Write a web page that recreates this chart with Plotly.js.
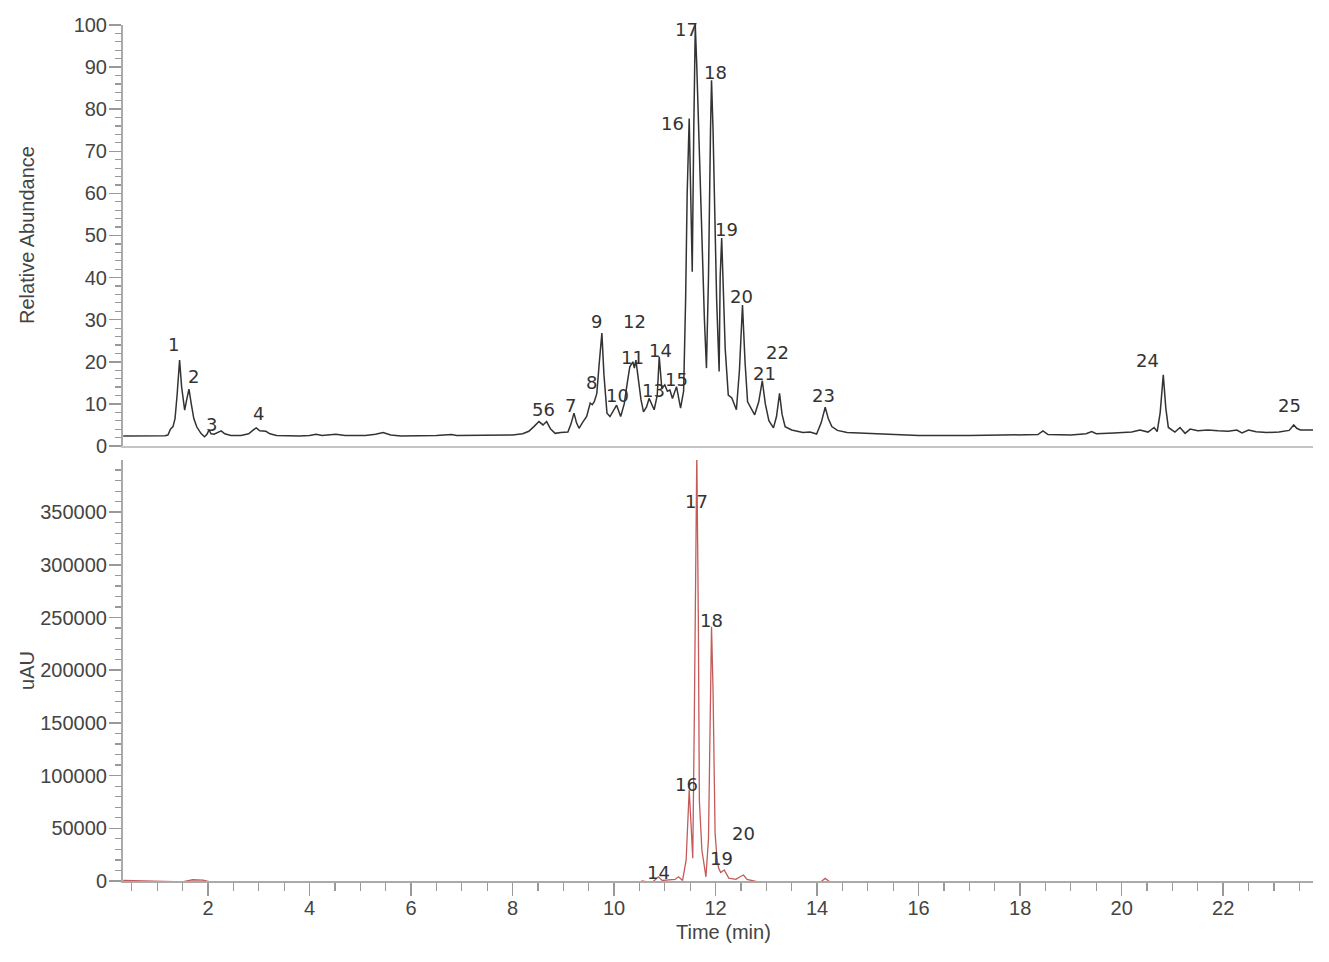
<!DOCTYPE html>
<html>
<head>
<meta charset="utf-8">
<script src="https://cdn.plot.ly/plotly-3.0.1.min.js"></script>
<style>
  html, body { margin: 0; padding: 0; background: #fff; }
  #chart { width: 1329px; height: 962px; }
</style>
</head>
<body>
<div id="chart"></div>
<script>
// Top trace: total ion chromatogram (relative abundance, %)
const ticTime = [
  0.33, 0.8, 1.15, 1.21, 1.26, 1.31, 1.35, 1.39, 1.44, 1.48, 1.52, 1.54, 1.58, 1.625, 1.67, 1.72, 1.78, 1.86, 1.93, 1.98,
  2.02, 2.06, 2.12, 2.2, 2.26, 2.33, 2.45, 2.65, 2.8, 2.9, 2.95, 3.02, 3.1, 3.14, 3.22, 3.35, 3.8, 4.0, 4.13, 4.25,
  4.35, 4.52, 4.7, 5.1, 5.3, 5.45, 5.6, 5.8, 6.5, 6.8, 6.9, 7.5, 8.0, 8.2, 8.32, 8.42, 8.52, 8.6, 8.67, 8.75,
  8.84, 8.95, 9.09, 9.15, 9.21, 9.26, 9.31, 9.38, 9.46, 9.53, 9.57, 9.61, 9.66, 9.71, 9.76, 9.8, 9.86, 9.92, 9.98, 10.05,
  10.13, 10.2, 10.26, 10.31, 10.37, 10.4, 10.43, 10.48, 10.53, 10.58, 10.64, 10.69, 10.74, 10.79, 10.85, 10.89, 10.94, 11.0, 11.05, 11.1,
  11.15, 11.23, 11.31, 11.37, 11.41, 11.44, 11.48, 11.51, 11.54, 11.57, 11.6, 11.63, 11.68, 11.73, 11.78, 11.82, 11.86, 11.9, 11.92, 11.95,
  11.99, 12.02, 12.07, 12.09, 12.12, 12.15, 12.19, 12.25, 12.32, 12.41, 12.47, 12.53, 12.58, 12.63, 12.7, 12.77, 12.85, 12.92, 12.98, 13.05,
  13.14, 13.2, 13.26, 13.31, 13.37, 13.5, 13.72, 13.86, 13.99, 14.08, 14.16, 14.22, 14.29, 14.4, 14.59, 14.98, 15.3, 16.0, 17.0, 18.0,
  18.35, 18.45, 18.55, 19.0, 19.3, 19.41, 19.5, 19.85, 20.03, 20.2, 20.36, 20.52, 20.64, 20.7, 20.76, 20.82, 20.87, 20.92, 21.05, 21.15,
  21.25, 21.35, 21.5, 21.7, 21.9, 22.1, 22.27, 22.37, 22.5, 22.65, 22.86, 23.1, 23.3, 23.39, 23.45, 23.52, 23.77
];
const ticAbundance = [
  2.4, 2.4, 2.45, 2.6, 4.0, 4.6, 6.5, 12, 20.4, 14, 9.5, 8.5, 11, 13.5, 10, 6.5, 4.5, 3.0, 2.2, 2.8,
  3.8, 2.9, 2.8, 3.3, 3.6, 2.9, 2.5, 2.5, 2.9, 3.9, 4.3, 3.6, 3.5, 3.5, 2.9, 2.5, 2.4, 2.5, 2.8, 2.5,
  2.6, 2.8, 2.5, 2.5, 2.8, 3.2, 2.6, 2.4, 2.5, 2.7, 2.5, 2.5, 2.6, 2.9, 3.5, 4.6, 5.8, 5.0, 5.8, 4.0,
  3.0, 3.2, 3.3, 5.2, 7.8, 5.5, 4.2, 5.6, 7.0, 10.2, 9.8, 10.5, 12.5, 20, 26.8, 17, 7.8, 7.0, 8.2, 9.7,
  7.0, 10, 15, 18.8, 20.0, 18.5, 20.4, 16, 11, 8.1, 9.3, 11.3, 9.8, 8.6, 12, 21.2, 13.7, 14.5, 13.0, 13.3,
  11.3, 14.1, 9.0, 13, 35, 60, 77.8, 60, 41.4, 75, 100, 90, 70, 47, 30, 18.5, 40, 75, 86.9, 75,
  50, 35, 17.7, 40, 49.4, 40, 23, 12.1, 11.4, 8.6, 18, 33.5, 20, 10.5, 8.8, 7.4, 10.5, 15.5, 10, 6,
  4.3, 7, 12.5, 7.5, 4.6, 3.8, 3.2, 3.3, 2.85, 5.5, 9.2, 6.5, 4.6, 3.7, 3.2, 3.0, 2.7, 2.5, 2.5, 2.6,
  2.7, 3.6, 2.7, 2.6, 2.9, 3.4, 2.9, 3.1, 3.2, 3.3, 3.8, 3.3, 4.4, 3.4, 8, 16.9, 9, 4.4, 3.3, 4.4,
  3.0, 4.0, 3.6, 3.8, 3.6, 3.5, 3.8, 3.1, 3.8, 3.4, 3.2, 3.3, 3.7, 5.0, 4.2, 3.8, 3.8
];

// Bottom trace: UV chromatogram (uAU); null marks where the recorded trace is absent
const uvTime = [
  0.33, 1.0, 1.5, 1.7, 1.9, 2.1, 3.0, 3.8, 3.85, 10.32, 10.45, 10.5, 10.55, 10.75, 10.87, 10.95, 11.2, 11.27, 11.35,
  11.42, 11.48, 11.52, 11.55, 11.58, 11.63, 11.66, 11.68, 11.73, 11.78, 11.81, 11.86, 11.9, 11.92, 11.95, 11.99, 12.03, 12.06, 12.1, 12.17,
  12.26, 12.4, 12.5, 12.55, 12.62, 12.75, 12.85, 12.97, 13.0, 14.08, 14.16, 14.24
];
const uvSignal = [
  500, -500, -800, 1200, 800, -1500, -2000, -1500, null, -1500, -1000, -3000, 0, -1500, 4000, 500, 1500, 4000, 500,
  20000, 86300, 50000, 21500, 150000, 405000, 250000, 76800, 29400, 10000, 4000, 40000, 200000, 241200, 180000, 45500, 20000, 12300, 8000, 10400,
  2800, 1500, 4500, 5700, 1500, 0, -1000, -1500, null, -500, 2500, -500
];

// Peak numbers
const ticPeakNames = ['1', '2', '3', '4', '56', '7', '8', '9', '10', '11', '12', '13', '14', '15', '16', '17', '18', '19', '20', '21', '22', '23', '24', '25'];
const ticPeakTime = [1.31, 1.72, 2.06, 3.0, 8.6, 9.15, 9.55, 9.65, 10.06, 10.36, 10.4, 10.77, 10.91, 11.22, 11.16, 11.42, 11.99, 12.21, 12.52, 12.97, 13.21, 14.12, 20.5, 23.3];
const ticPeakLevel = [24.2, 16.6, 5.2, 7.6, 8.6, 9.5, 15, 29.5, 11.9, 21.1, 29.5, 13.1, 22.8, 15.9, 76.7, 99, 88.8, 51.5, 35.4, 17.1, 22.1, 11.9, 20.2, 9.7];

const uvPeakNames = ['14', '16', '17', '18', '19', '20'];
const uvPeakTime = [10.87, 11.42, 11.62, 11.91, 12.11, 12.54];
const uvPeakLevel = [8500, 92000, 360500, 247600, 21800, 44600];

const tickFont = { family: 'Liberation Sans, Arial, sans-serif', size: 20, color: '#444' };
const peakFont = { family: 'DejaVu Sans, Verdana, sans-serif', size: 18, color: '#333' };

const traces = [
  {
    x: ticTime, y: ticAbundance, xaxis: 'x', yaxis: 'y',
    mode: 'lines', line: { color: '#333', width: 1.5 }, hoverinfo: 'x+y'
  },
  {
    x: uvTime, y: uvSignal, xaxis: 'x2', yaxis: 'y2', connectgaps: false,
    mode: 'lines', line: { color: '#c45a5a', width: 1.3 }, hoverinfo: 'x+y'
  }
];

const annotations = [];
ticPeakNames.forEach((n, i) => {
  annotations.push({ x: ticPeakTime[i], y: ticPeakLevel[i], xref: 'x', yref: 'y', text: n, showarrow: false, font: peakFont });
});
uvPeakNames.forEach((n, i) => {
  annotations.push({ x: uvPeakTime[i], y: uvPeakLevel[i], xref: 'x2', yref: 'y2', text: n, showarrow: false, font: peakFont });
});
// y axis titles, both aligned in the left margin
annotations.push({ xref: 'paper', yref: 'paper', x: -0.0807, y: 0.7547, xanchor: 'center', yanchor: 'middle', text: 'Relative Abundance', textangle: -90, showarrow: false, font: tickFont });
annotations.push({ xref: 'paper', yref: 'paper', x: -0.0807, y: 0.2465, xanchor: 'center', yanchor: 'middle', text: 'uAU', textangle: -90, showarrow: false, font: tickFont });
// x axis title
annotations.push({ xref: 'paper', yref: 'paper', x: 0.505, y: -0.0596, xanchor: 'center', yanchor: 'middle', text: 'Time (min)', showarrow: false, font: tickFont });

const xRange = [0.325, 23.77];
const layout = {
  width: 1329,
  height: 962,
  margin: { l: 123, r: 16, t: 25, b: 81 },
  paper_bgcolor: '#fff',
  plot_bgcolor: '#fff',
  showlegend: false,
  font: tickFont,
  xaxis: {
    domain: [0, 1], anchor: 'y', range: xRange,
    showline: true, linecolor: '#c4c4c4', linewidth: 2,
    showticklabels: false, ticks: '', showgrid: false, zeroline: false
  },
  yaxis: {
    domain: [0.5082, 1], anchor: 'x', range: [0, 100],
    tick0: 0, dtick: 10, ticks: 'outside', ticklen: 12, tickcolor: '#999', tickwidth: 1.5,
    minor: { dtick: 2, ticks: 'outside', ticklen: 6, tickcolor: '#999', tickwidth: 1.2, showgrid: false },
    showline: true, linecolor: '#aaa', linewidth: 2, ticklabelstandoff: -2,
    showgrid: false, zeroline: false, tickfont: tickFont
  },
  xaxis2: {
    domain: [0, 1], anchor: 'y2', range: xRange,
    tick0: 0, dtick: 2, ticks: 'outside', ticklen: 13, tickcolor: '#999', tickwidth: 1.5,
    minor: { dtick: 0.5, ticks: 'outside', ticklen: 8, tickcolor: '#999', tickwidth: 1.2, showgrid: false },
    showline: true, linecolor: '#aaa', linewidth: 2, ticklabelstandoff: -5,
    showgrid: false, zeroline: false, tickfont: tickFont
  },
  yaxis2: {
    domain: [0, 0.4918], anchor: 'x2', range: [0, 399500],
    tick0: 0, dtick: 50000, tickformat: 'd', ticks: 'outside', ticklen: 12, tickcolor: '#999', tickwidth: 1.5,
    minor: { dtick: 10000, ticks: 'outside', ticklen: 6, tickcolor: '#999', tickwidth: 1.2, showgrid: false },
    showline: true, linecolor: '#aaa', linewidth: 2, ticklabelstandoff: -2,
    showgrid: false, zeroline: false, tickfont: tickFont
  },
  annotations: annotations
};

Plotly.newPlot('chart', traces, layout, { displayModeBar: false, staticPlot: true });
</script>
</body>
</html>
